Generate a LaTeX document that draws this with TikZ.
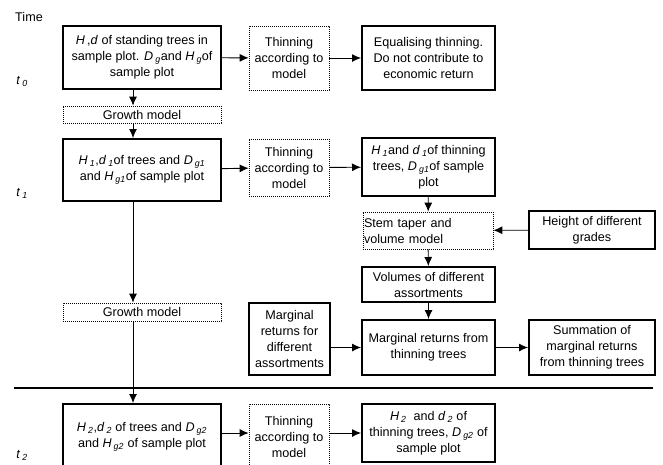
\documentclass[tikz,border=0pt]{standalone}
\usepackage{fontspec}
\setmainfont{Liberation Sans}
\usepackage{tikz}
\usetikzlibrary{positioning}
\usetikzlibrary{arrows.meta}
\newcommand{\vr}[2]{\textit{#1}\,\textsubscript{\textit{#2}}}
\tikzset{x=1pt, y=-1pt,
	every node/.style={
		font=\fontsize{12.6}{16}\selectfont,
		align=center,
		inner sep=1pt},
	datbox/.style={
		draw,
		line width=2pt,
		minimum height=#1},
	datbox/.default=60,
	modbox/.style={
		draw,
		dash pattern=on 0.8pt off 1.2pt,
		line width=0.7pt,
		minimum height=#1},
	modbox/.default=60,
	every edge/.style={
		draw,
		-{Latex[length=9pt,width=8pt]},
		line width=0.9pt}
}

\begin{document}
\begin{tikzpicture}
	\useasboundingbox (0,0) rectangle (663,464);
	\clip (0,0) rectangle (663,464);
	% time labels
	\node (time) at (29,17) {Time};
	\node (t0) at (22,81) {\textit{t}\,\textsubscript{\textit{0}}};
	\node (t1) at (22,193) {\textit{t}\,\textsubscript{\textit{1}}};
	\node (t2) at (22,455) {\textit{t}\,\textsubscript{\textit{2}}};
	\coordinate (spine) at (133,0);
	% t0
	\node[datbox=63, minimum width=158] (hd0) at (142,57.5)
		{\textit{H}\,,\textit{d} of standing trees in\\ sample plot. \vr{D}{g}and \vr{H}{g}of\\ sample plot};
	\node[modbox=64, minimum width=80] (thin0) at (289,58) {Thinning\\ according to\\ model};
	\node[datbox=64, minimum width=133] (equal) at (428.5,58)
		{Equalising thinning.\\ Do not contribute to\\ economic return};
	\node[modbox=17, minimum width=158] (grow1) at (142,114.5) {Growth model};
	% t1
	\node[datbox=62, minimum width=158] (hd1) at (142,170)
		{\vr{H}{1},\vr{d}{1}of trees and \vr{D}{g1}\\ and \vr{H}{g1}of sample plot};
	\node[modbox=57, minimum width=80] (thin1) at (289,167.5) {Thinning\\ according to\\ model};
	\node[datbox=58, minimum width=133] (thintr1) at (428.5,167)
		{\vr{H}{1}and \vr{d}{1}of thinning\\ trees, \vr{D}{g1}of sample\\ plot};
	\node[modbox=37, text width=128, align=left] (stem) at (428,230.5)
		{Stem taper and\\volume model};
	\node[datbox=38, minimum width=126] (height) at (592,230) {Height of different\\ grades};
	\node[datbox=35, minimum width=133] (vol) at (428.5,284.5) {Volumes of different\\ assortments};
	\node[datbox=55, minimum width=133] (mrthin) at (428.5,347.5) {Marginal returns from\\ thinning trees};
	\node[datbox=55, minimum width=126] (summ) at (592,347.5)
		{Summation of\\ marginal returns\\ from thinning trees};
	\node[datbox=72, minimum width=81] (mrass) at (289.5,339)
		{Marginal\\ returns for\\ different\\ assortments};
	\node[modbox=18, minimum width=158] (grow2) at (142,312) {Growth model};
	% t2
	\node[datbox=66, minimum width=158] (hd2) at (142,437)
		{\vr{H}{2},\vr{d}{2} of trees and \vr{D}{g2}\\ and \vr{H}{g2} of sample plot};
	\node[modbox=66, minimum width=80] (thin2) at (289,437) {Thinning\\ according to\\ model};
	\node[datbox=58, minimum width=133] (thintr2) at (428.5,433)
		{\vr{H}{2}~ and \vr{d}{2} of\\ thinning trees, \vr{D}{g2} of\\ sample plot};
	% time separator
	\coordinate (sepl) at (14,388);
	\coordinate (sepr) at (653,388);
	\draw[line width=1.1pt] (sepl) -- (sepr);
	% connectors
	\draw (hd0) edge (thin0);
	\draw (thin0) edge (equal);
	\draw (hd0.south -| spine) edge (grow1.north -| spine);
	\draw (grow1.south -| spine) edge (hd1.north -| spine);
	\draw (hd1) edge (thin1);
	\draw (thin1) edge (thintr1);
	\draw (thintr1) edge (stem);
	\draw (height) edge (stem);
	\draw (stem) edge (vol);
	\draw (vol) edge (mrthin);
	\draw (mrthin) edge (summ);
	\draw (mrass.east |- mrthin) edge (mrthin);
	\draw (hd1.south -| spine) edge (grow2.north -| spine);
	\draw (grow2.south -| spine) edge (hd2.north -| spine);
	\draw (hd2.east |- thintr2) edge (thin2.west |- thintr2);
	\draw (thin2.east |- thintr2) edge (thintr2);
\end{tikzpicture}
\end{document}
